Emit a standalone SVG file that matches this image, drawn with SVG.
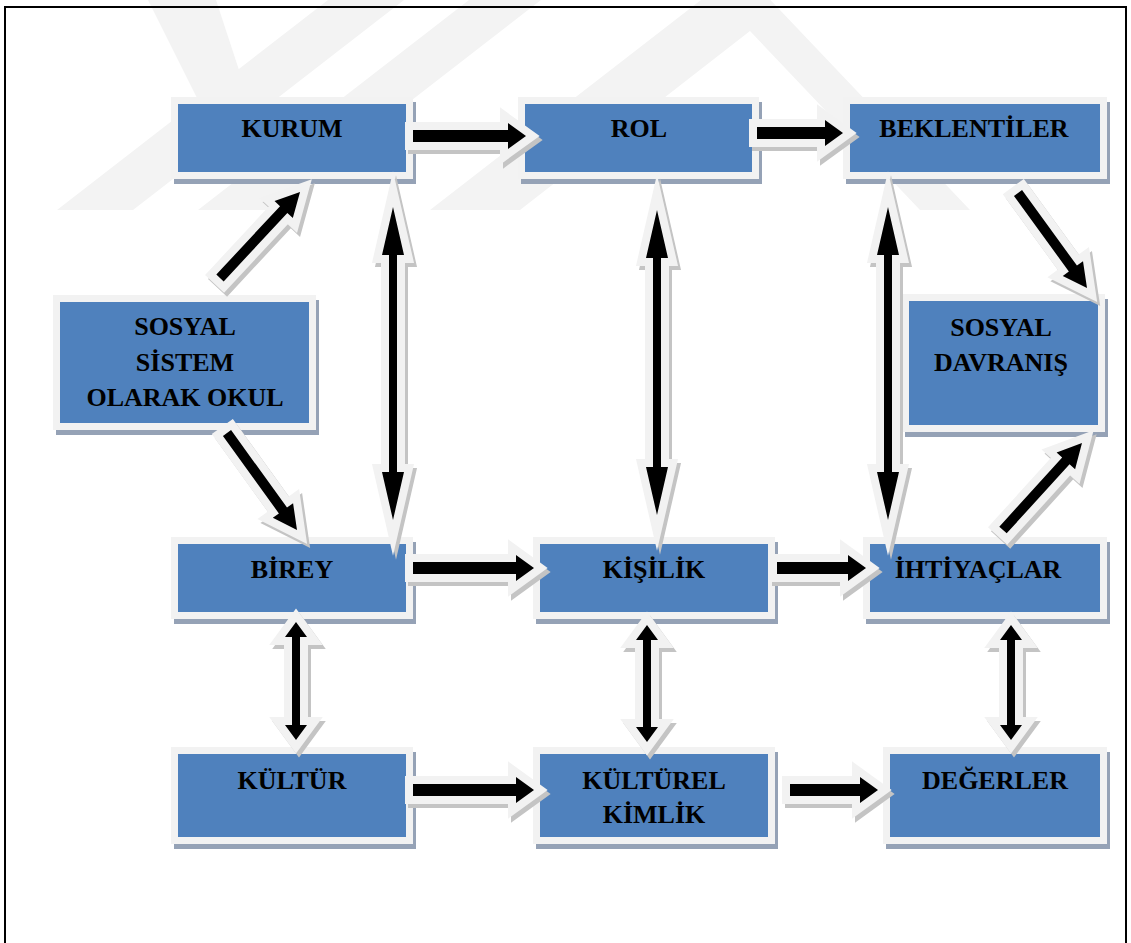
<svg xmlns="http://www.w3.org/2000/svg" xmlns:xlink="http://www.w3.org/1999/xlink" width="1131" height="943" viewBox="0 0 1131 943">
<style>
.wm{fill:#f3f3f3}
.shadow{fill:#95a2b6}
.outer{fill:#f2f2f2}
.blue{fill:#4f81bd}
.lbl{font-family:"Liberation Serif","Times New Roman",serif;font-weight:bold;font-size:26px;fill:#000;text-anchor:middle}
.ash{fill:#c4c4c4;stroke:#c4c4c4;stroke-width:16;stroke-linejoin:miter;stroke-miterlimit:10}
.aol{fill:#f2f2f2;stroke:#f2f2f2;stroke-width:16;stroke-linejoin:miter;stroke-miterlimit:10}
.abk{fill:#000}
</style>
<defs>
<path id="a1" transform="translate(413,136)" d="M0,-6H95V-13L113,0L95,13V6H0Z"/>
<path id="a2" transform="translate(757,133)" d="M0,-6H68V-13L86,0L68,13V6H0Z"/>
<path id="a3" transform="translate(413,568)" d="M0,-6H103V-13L121,0L103,13V6H0Z"/>
<path id="a4" transform="translate(777,568)" d="M0,-6H71V-13L89,0L71,13V6H0Z"/>
<path id="a5" transform="translate(413,790)" d="M0,-6H103V-13L121,0L103,13V6H0Z"/>
<path id="a6" transform="translate(790,790)" d="M0,-6H70V-13L88,0L70,13V6H0Z"/>
<path id="d1" transform="translate(220,278) rotate(-47.07)" d="M0,-5H93.5V-12.5L117.5,0L93.5,12.5V5H0Z"/>
<path id="d2" transform="translate(227,433) rotate(54.18)" d="M0,-5H95.6V-12.5L119.6,0L95.6,12.5V5H0Z"/>
<path id="d3" transform="translate(1018,193) rotate(54.0)" d="M0,-5H93.4V-12.5L117.4,0L93.4,12.5V5H0Z"/>
<path id="d4" transform="translate(1003,530) rotate(-47.76)" d="M0,-5H93.5V-12.5L117.5,0L93.5,12.5V5H0Z"/>
<path id="v1" transform="translate(393,207) rotate(90)" d="M0,0L48,-11V-4H265V-11L313,0L265,11V4H48V11Z"/>
<path id="v2" transform="translate(657,210) rotate(90)" d="M0,0L48,-11V-4H257V-11L305,0L257,11V4H48V11Z"/>
<path id="v3" transform="translate(888,207) rotate(90)" d="M0,0L48,-11V-4H265V-11L313,0L265,11V4H48V11Z"/>
<path id="v4" transform="translate(296,622) rotate(90)" d="M0,0L15,-11V-4H103V-11L118,0L103,11V4H15V11Z"/>
<path id="v5" transform="translate(647,625) rotate(90)" d="M0,0L15,-11V-4H102V-11L117,0L102,11V4H15V11Z"/>
<path id="v6" transform="translate(1011,625) rotate(90)" d="M0,0L15,-11V-4H100V-11L115,0L100,11V4H15V11Z"/>
</defs>

<g id="watermark">
<polygon class="wm" points="148,0 216,0 239,70 199,102"/>
<polygon class="wm" points="328,0 404,0 133,210 57,210"/>
<polygon class="wm" points="469,0 541,0 270,210 198,210"/>
<polygon class="wm" points="741,-31 970,210 920,210 750,31 520,210 430,210"/>
</g>

<rect x="5" y="7" width="1121" height="960" fill="none" stroke="#000" stroke-width="2"/>

<g id="kurum">
<rect class="shadow" x="174" y="102" width="242" height="82"/>
<rect class="outer" x="171" y="97" width="242" height="82"/>
<rect class="blue" x="178" y="104" width="228" height="68"/>
<text class="lbl" x="292" y="137">KURUM</text>
</g>
<g id="rol">
<rect class="shadow" x="521" y="102" width="241" height="82"/>
<rect class="outer" x="518" y="97" width="241" height="82"/>
<rect class="blue" x="525" y="104" width="227" height="68"/>
<text class="lbl" x="639" y="137">ROL</text>
</g>
<g id="beklentiler">
<rect class="shadow" x="846" y="102" width="264" height="82"/>
<rect class="outer" x="843" y="97" width="264" height="82"/>
<rect class="blue" x="850" y="104" width="250" height="68"/>
<text class="lbl" x="974" y="137">BEKLENTİLER</text>
</g>
<g id="sosyal-sistem">
<rect class="shadow" x="56" y="300" width="263" height="135"/>
<rect class="outer" x="53" y="295" width="263" height="135"/>
<rect class="blue" x="60" y="302" width="249" height="121"/>
<text class="lbl" x="185" y="335">SOSYAL</text>
<text class="lbl" x="185" y="371">SİSTEM</text>
<text class="lbl" x="185" y="406">OLARAK OKUL</text>
</g>
<g id="sosyal-davranis">
<rect class="shadow" x="905" y="299" width="203" height="138"/>
<rect class="outer" x="902" y="294" width="203" height="138"/>
<rect class="blue" x="909" y="301" width="189" height="124"/>
<text class="lbl" x="1001" y="336">SOSYAL</text>
<text class="lbl" x="1001" y="371">DAVRANIŞ</text>
</g>
<g id="birey">
<rect class="shadow" x="174" y="542" width="242" height="82"/>
<rect class="outer" x="171" y="537" width="242" height="82"/>
<rect class="blue" x="178" y="544" width="228" height="68"/>
<text class="lbl" x="292" y="578">BİREY</text>
</g>
<g id="kisilik">
<rect class="shadow" x="536" y="542" width="242" height="82"/>
<rect class="outer" x="533" y="537" width="242" height="82"/>
<rect class="blue" x="540" y="544" width="228" height="68"/>
<text class="lbl" x="654" y="578">KİŞİLİK</text>
</g>
<g id="ihtiyaclar">
<rect class="shadow" x="866" y="542" width="244" height="82"/>
<rect class="outer" x="863" y="537" width="244" height="82"/>
<rect class="blue" x="870" y="544" width="230" height="68"/>
<text class="lbl" x="978" y="578">İHTİYAÇLAR</text>
</g>
<g id="kultur">
<rect class="shadow" x="174" y="752" width="242" height="97"/>
<rect class="outer" x="171" y="747" width="242" height="97"/>
<rect class="blue" x="178" y="754" width="228" height="83"/>
<text class="lbl" x="292" y="789">KÜLTÜR</text>
</g>
<g id="kulturel-kimlik">
<rect class="shadow" x="536" y="752" width="242" height="97"/>
<rect class="outer" x="533" y="747" width="242" height="97"/>
<rect class="blue" x="540" y="754" width="228" height="83"/>
<text class="lbl" x="654" y="789">KÜLTÜREL</text>
<text class="lbl" x="654" y="823">KİMLİK</text>
</g>
<g id="degerler">
<rect class="shadow" x="886" y="752" width="224" height="97"/>
<rect class="outer" x="883" y="747" width="224" height="97"/>
<rect class="blue" x="890" y="754" width="210" height="83"/>
<text class="lbl" x="995" y="789">DEĞERLER</text>
</g>

<g id="connectors">
<g transform="translate(3,4)">
<use href="#a1" class="ash"/><use href="#a2" class="ash"/><use href="#a3" class="ash"/><use href="#a4" class="ash"/><use href="#a5" class="ash"/><use href="#a6" class="ash"/>
<use href="#d1" class="ash"/><use href="#d2" class="ash"/><use href="#d3" class="ash"/><use href="#d4" class="ash"/>
<use href="#v1" class="ash"/><use href="#v2" class="ash"/><use href="#v3" class="ash"/><use href="#v4" class="ash"/><use href="#v5" class="ash"/><use href="#v6" class="ash"/>
</g>
<use href="#a1" class="aol"/><use href="#a2" class="aol"/><use href="#a3" class="aol"/><use href="#a4" class="aol"/><use href="#a5" class="aol"/><use href="#a6" class="aol"/>
<use href="#d1" class="aol"/><use href="#d2" class="aol"/><use href="#d3" class="aol"/><use href="#d4" class="aol"/>
<use href="#v1" class="aol"/><use href="#v2" class="aol"/><use href="#v3" class="aol"/><use href="#v4" class="aol"/><use href="#v5" class="aol"/><use href="#v6" class="aol"/>
<use href="#a1" class="abk"/><use href="#a2" class="abk"/><use href="#a3" class="abk"/><use href="#a4" class="abk"/><use href="#a5" class="abk"/><use href="#a6" class="abk"/>
<use href="#d1" class="abk"/><use href="#d2" class="abk"/><use href="#d3" class="abk"/><use href="#d4" class="abk"/>
<use href="#v1" class="abk"/><use href="#v2" class="abk"/><use href="#v3" class="abk"/><use href="#v4" class="abk"/><use href="#v5" class="abk"/><use href="#v6" class="abk"/>
</g>
</svg>
